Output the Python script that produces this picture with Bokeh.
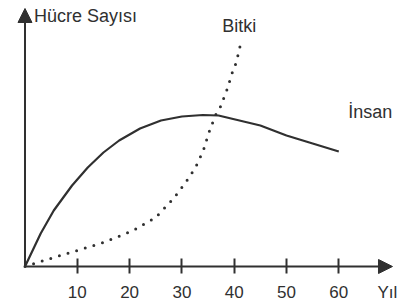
from bokeh.plotting import figure
from bokeh.models import Range1d, Arrow, NormalHead, FixedTicker, Label, LinearAxis, ColumnDataSource
from bokeh.embed import file_html
from bokeh.resources import INLINE

# Human (İnsan) - solid curve: years vs relative cell count
human_years = [0, 3, 5.5, 9, 12, 15, 18, 22, 26, 30, 34, 37, 41, 45, 50, 55, 60]
human_cells = [0, 33, 56, 81, 99, 114, 126, 138, 146, 150, 151.5, 151, 146, 141, 131, 123, 115]

# Plant (Bitki) - dotted curve
plant_years = [0, 2.4, 8.7, 15.0, 20.7, 25.0, 28.4, 30.7, 32.6, 34.1, 35.1, 36.4, 37.4, 38.7, 39.7, 40.4, 41.2]
plant_cells = [0, 4, 14, 24, 36, 49, 68, 84, 99, 116, 133, 151, 160, 178, 195, 204, 222]

tick_years = [10, 20, 30, 40, 50, 60]

INK = "#303030"
FONT = "Liberation Sans"

p = figure(width=400, height=305, output_backend="svg", toolbar_location=None,
           x_range=Range1d(-4.684, 71.8), y_range=Range1d(-39, 266),
           x_axis_type=None, y_axis_type=None, min_border=0)
p.outline_line_color = None
p.background_fill_color = "white"

xaxis = LinearAxis(fixed_location=0, ticker=FixedTicker(ticks=tick_years),
                   axis_line_color=None, major_tick_in=8, major_tick_out=7,
                   major_tick_line_color=INK, major_tick_line_width=2,
                   minor_tick_line_color=None,
                   major_label_text_font=FONT, major_label_text_font_size="17px",
                   major_label_text_color=INK, major_label_standoff=12)
p.add_layout(xaxis, "below")

# axis arrows
p.add_layout(Arrow(end=NormalHead(size=14, fill_color=INK, line_color=INK, line_width=1),
                   x_start=0, y_start=0, x_end=70.27, y_end=0,
                   line_color=INK, line_width=2))
p.add_layout(Arrow(end=NormalHead(size=14, fill_color=INK, line_color=INK, line_width=1),
                   x_start=0, y_start=0, x_end=0, y_end=258,
                   line_color=INK, line_width=2))

hsrc = ColumnDataSource(dict(x=human_years, y=human_cells))
psrc = ColumnDataSource(dict(x=plant_years, y=plant_cells))
p.line("x", "y", source=hsrc, line_color=INK, line_width=2.2)
p.line("x", "y", source=psrc, line_color=INK, line_width=3,
       line_dash="0 9", line_cap="round")

def lab(x, y, t, size="18px"):
    p.add_layout(Label(x=x, y=y, text=t, text_font=FONT, text_font_size=size,
                       text_color=INK, text_baseline="middle", text_align="left"))

lab(1.7, 251, "Hücre Sayısı")
lab(37.7, 241, "Bitki")
lab(61.8, 155, "İnsan")
lab(67.4, -26, "Yıl", "17px")

open("out.html", "w").write(file_html(p, INLINE))
